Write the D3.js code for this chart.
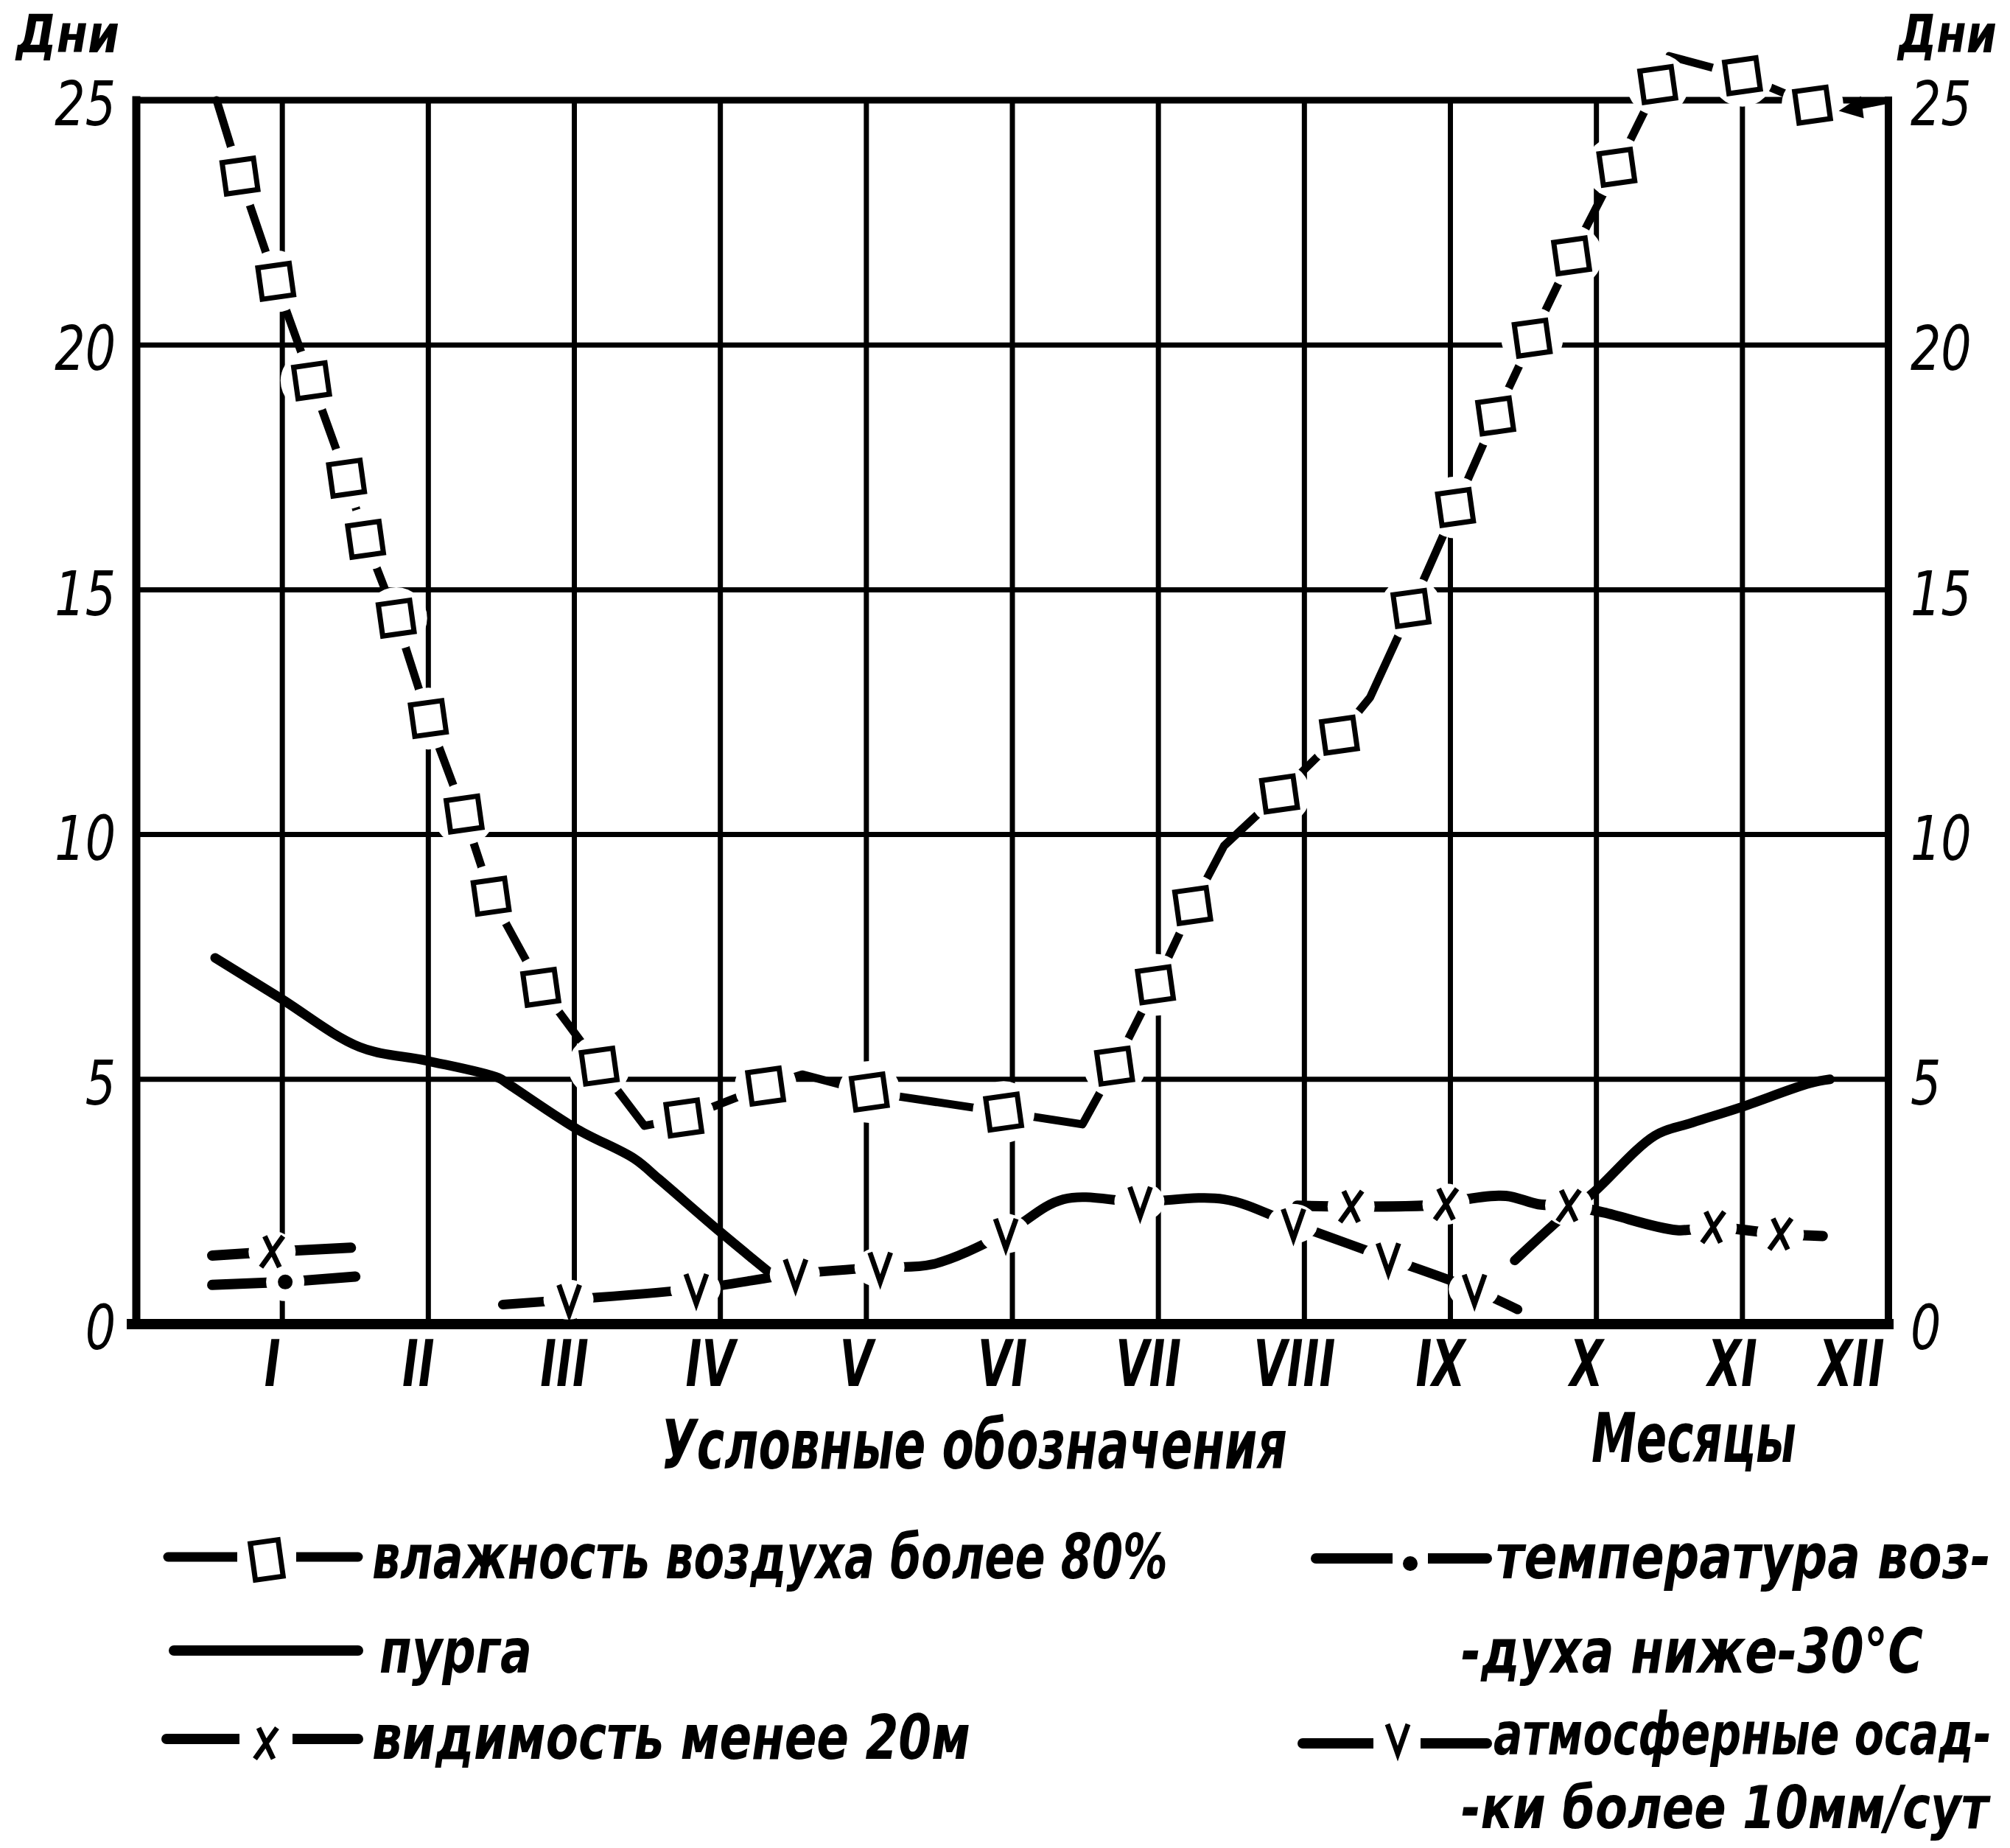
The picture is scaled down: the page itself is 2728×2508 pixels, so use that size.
<!DOCTYPE html>
<html><head><meta charset="utf-8">
<script src="https://cdn.jsdelivr.net/npm/d3@7"></script>
<style>body{margin:0;background:#fff}svg{display:block}</style>
</head><body>
<svg id="chart" width="2728" height="2508"></svg>
<script>
// ---------- DATA ----------
const months = ["I","II","III","IV","V","VI","VII","VIII","IX","X","XI","XII"];
const dayTicks = [0,5,10,15,20,25];
const gridMonths = [1,2,3,4,5,6,7,8,9,10,11];
const gridDays = [5,10,15,20];

// [month position, days, marker(1) / plain vertex(0)]
const humidity = [
  [0.55,25.0,0],[0.71,23.45,1],[0.955,21.3,1],[1.20,19.27,1],[1.44,17.28,1],[1.57,16.03,1],
  [1.78,14.42,1],[2.00,12.37,1],[2.245,10.42,1],[2.43,8.74,1],[2.77,6.88,1],[3.17,5.27,1],
  [3.48,4.05,0],[3.75,4.21,1],[4.31,4.86,1],[4.56,5.1,0],[5.02,4.74,1],[5.94,4.33,1],
  [6.48,4.08,0],[6.70,5.27,1],[6.98,6.93,1],[7.235,8.55,1],[7.45,9.77,0],[7.83,10.83,1],
  [8.24,12.03,1],[8.45,12.8,0],[8.73,14.62,1],[9.035,16.68,1],[9.31,18.55,1],[9.56,20.14,1],
  [9.83,21.82,1],[10.14,23.63,1],[10.42,25.32,1],[10.5,25.9,0],[11.0,25.5,1],[11.48,24.9,1]
];
const humidityArrow = [[12,25],[11.66,24.78]];

const blizzardWinter = [
  [0.54,7.48],[0.98,6.67],[1.53,5.66],[1.99,5.38],[2.48,5.03],[2.55,4.9],[3.02,3.98],
  [3.41,3.38],[3.58,2.96],[4.0,1.88],[4.40,0.9]
];
const blizzardAutumn = [
  [9.44,1.3],[9.81,2.3],[9.97,2.66],[10.4,3.85],[10.64,4.1],[10.98,4.42],[11.46,4.92],[11.6,5.0]
];

const visibility = [
  [7.95,2.42,0],[8.32,2.4,1],[8.97,2.45,1],[9.07,2.53,0],[9.38,2.62,0],[9.6,2.45,0],[9.81,2.42,1],
  [10.05,2.28,0],[10.55,1.92,0],[10.8,1.98,1],[11.26,1.84,1],[11.55,1.8,0]
];
const visibilityJan = [[0.52,1.40,0],[0.93,1.48,1],[1.47,1.56,0]];
const frostJan = [[0.52,0.80,0],[1.02,0.86,1],[1.5,0.97,0]];

const precipitation = [
  [2.51,0.4,0],[2.96,0.5,1],[3.83,0.72,1],[4.51,1.02,1],[5.09,1.16,1],[5.45,1.22,0],
  [5.95,1.85,1],[6.35,2.55,0],[6.87,2.5,1],[7.45,2.55,0],[7.92,2.05,1],[8.57,1.35,1],
  [9.16,0.71,1],[9.46,0.3,0]
];

const axisTitleDays = "Дни";
const legendTitle = "Условные обозначения";
const monthsTitle = "Месяцы";
const legendLeft = ["влажность воздуха более 80%","пурга","видимость менее 20м"];
const legendRight = ["температура воз-","-духа ниже-30°C","атмосферные осад-","-ки более 10мм/сут"];

// ---------- LAYOUT ----------
const FONT = "'Liberation Sans Narrow','DejaVu Sans Condensed','DejaVu Sans','Liberation Sans',sans-serif";
const X0 = 185, X1 = 2563, Y0 = 1797, Y1 = 136;
const x = d3.scaleLinear().domain([0,12]).range([X0,X1]);
const y = d3.scaleLinear().domain([0,25]).range([Y0,Y1]);

const svg = d3.select("#chart");
svg.append("rect").attr("width",2728).attr("height",2508).attr("fill","#fff");

const gGrid = svg.append("g").attr("stroke","#000").attr("stroke-width",7);
gGrid.selectAll("line.v").data(gridMonths).join("line").attr("class","v")
  .attr("x1",d=>x(d)).attr("x2",d=>x(d)).attr("y1",Y1).attr("y2",Y0);
gGrid.selectAll("line.h").data(gridDays).join("line").attr("class","h")
  .attr("x1",X0).attr("x2",X1).attr("y1",d=>y(d)).attr("y2",d=>y(d));

const gFrame = svg.append("g").attr("stroke","#000").attr("stroke-linecap","square");
gFrame.append("line").attr("x1",X0).attr("x2",X0).attr("y1",y(25)).attr("y2",Y0).attr("stroke-width",11);
gFrame.append("line").attr("x1",X1).attr("x2",X1).attr("y1",y(25)).attr("y2",Y0).attr("stroke-width",10);
gFrame.append("line").attr("x1",X0).attr("x2",X1).attr("y1",y(25)).attr("y2",y(25)).attr("stroke-width",9);
gFrame.append("line").attr("x1",X0-6).attr("x2",X1).attr("y1",Y0).attr("y2",Y0).attr("stroke-width",14);

// ---------- SERIES LINES ----------
const lineLin = d3.line().x(d=>x(d[0])).y(d=>y(d[1]));
const lineSmooth = d3.line().x(d=>x(d[0])).y(d=>y(d[1])).curve(d3.curveCatmullRom.alpha(0.5));
const gLines = svg.append("g").attr("fill","none").attr("stroke","#000")
  .attr("stroke-linecap","round").attr("stroke-linejoin","round");

gLines.append("path").datum(humidity).attr("d",lineLin).attr("stroke-width",11);
gLines.append("path").datum(blizzardWinter).attr("d",lineSmooth).attr("stroke-width",13);
gLines.append("path").datum(blizzardAutumn).attr("d",lineSmooth).attr("stroke-width",13);
gLines.append("path").datum(visibility).attr("d",lineSmooth).attr("stroke-width",14);
gLines.append("path").datum(precipitation).attr("d",lineSmooth).attr("stroke-width",13);
gLines.append("path").datum(visibilityJan).attr("d",lineLin).attr("stroke-width",14);
gLines.append("path").datum(frostJan).attr("d",lineLin).attr("stroke-width",14);

// ---------- HALOS (gaps around markers) ----------
const gHalo = svg.append("g").attr("fill","#fff");
const mk = arr => arr.filter(d=>d[2]===1);
gHalo.selectAll("circle.hs").data(mk(humidity)).join("circle").attr("class","hs")
  .attr("cx",d=>x(d[0])).attr("cy",d=>y(d[1])).attr("r",42);
gHalo.selectAll("ellipse.hv").data(mk(precipitation)).join("ellipse").attr("class","hv")
  .attr("cx",d=>x(d[0])).attr("cy",d=>y(d[1])).attr("rx",34).attr("ry",27);
gHalo.selectAll("ellipse.hx").data(mk(visibility).concat(mk(visibilityJan))).join("ellipse").attr("class","hx")
  .attr("cx",d=>x(d[0])).attr("cy",d=>y(d[1])).attr("rx",32).attr("ry",28);
gHalo.selectAll("circle.hd").data(mk(frostJan)).join("circle").attr("class","hd")
  .attr("cx",d=>x(d[0])).attr("cy",d=>y(d[1])).attr("r",26);

// ---------- MARKERS ----------
function drawSquare(g, cx, cy, w, h){
  g.append("rect").attr("x",cx-w/2).attr("y",cy-h/2).attr("width",w).attr("height",h)
    .attr("fill","#fff").attr("stroke","#000").attr("stroke-width",7)
    .attr("transform",`rotate(-8,${cx},${cy})`);
}
function drawV(g, cx, cy){
  g.append("path").attr("d",`M${cx-13},${cy-20}L${cx+1},${cy+20}L${cx+15},${cy-20}`)
    .attr("fill","none").attr("stroke","#000").attr("stroke-width",7).attr("stroke-linejoin","miter");
}
function drawX(g, cx, cy){
  g.append("path").attr("d",`M${cx-10},${cy-21}L${cx+10},${cy+21}M${cx+15},${cy-21}L${cx-15},${cy+21}`)
    .attr("fill","none").attr("stroke","#000").attr("stroke-width",7);
}
function drawDot(g, cx, cy){
  g.append("circle").attr("cx",cx).attr("cy",cy).attr("r",10).attr("fill","#000");
}
const gMark = svg.append("g");
mk(humidity).forEach(d=>drawSquare(gMark, x(d[0]), y(d[1]), 43, 43));
mk(precipitation).forEach(d=>drawV(gMark, x(d[0]), y(d[1])));
mk(visibility).forEach(d=>drawX(gMark, x(d[0]), y(d[1])));
mk(visibilityJan).forEach(d=>drawX(gMark, x(d[0]), y(d[1])));
mk(frostJan).forEach(d=>drawDot(gMark, x(d[0]), y(d[1])));

// arrow at the end of the humidity curve
const ax0 = x(humidityArrow[0][0]), ay0 = y(humidityArrow[0][1]);
const ax1 = x(humidityArrow[1][0]), ay1 = y(humidityArrow[1][1]);
gMark.append("line").attr("x1",ax0).attr("y1",ay0).attr("x2",ax1+14).attr("y2",ay1-4)
  .attr("stroke","#000").attr("stroke-width",9).attr("stroke-linecap","round");
gMark.append("path").attr("d",`M${ax1},${ay1}L${ax1+30},${ay1-20}L${ax1+34},${ay1+10}Z`).attr("fill","#000");

// ---------- AXES ----------
// horizontal condensing of axis labels (drafting font is narrow)
function squeeze(sel, f){
  sel.each(function(){
    const t = d3.select(this);
    const ox = +t.attr("x") || 0;
    const odx = parseFloat(t.attr("dx")) || 0;
    t.attr("x", ox/f).attr("dx", odx/f).attr("transform", `scale(${f},1)`);
  });
}
const tickFont = g => g.selectAll("text").attr("font-family",FONT).attr("font-style","italic")
  .attr("font-size",84).attr("fill","#000").attr("dy","0.4em");

const gLeft = svg.append("g").attr("transform",`translate(${X0},0)`)
  .call(d3.axisLeft(y).tickValues(dayTicks).tickSize(0).tickPadding(28).tickFormat(d3.format("d")));
gLeft.select(".domain").remove();
gLeft.call(tickFont);
squeeze(gLeft.selectAll("text"), 0.86);

const gRight = svg.append("g").attr("transform",`translate(${X1},0)`)
  .call(d3.axisRight(y).tickValues(dayTicks).tickSize(0).tickPadding(30).tickFormat(d3.format("d")));
gRight.select(".domain").remove();
gRight.call(tickFont);
squeeze(gRight.selectAll("text"), 0.86);

const gBottom = svg.append("g").attr("transform",`translate(0,${Y0})`)
  .call(d3.axisBottom(x).tickValues(d3.range(1,13)).tickSize(0).tickPadding(22).tickFormat(d=>months[d-1]));
gBottom.select(".domain").remove();
gBottom.selectAll("text").attr("font-family",FONT).attr("font-style","italic").attr("font-weight","bold")
  .attr("font-size",88).attr("fill","#000").attr("dx",-14);
gBottom.selectAll(".tick").filter(d=>d===12).select("text").attr("text-anchor","end").attr("dx",-6);
squeeze(gBottom.selectAll("text"), 0.74);

// ---------- TEXTS ----------
// text placed at (tx,ty) and condensed horizontally to the given width
function txt(str, tx, ty, size, width, weight){
  const t = svg.append("text").attr("x",0).attr("y",0).text(str)
    .attr("font-family",FONT).attr("font-style","italic").attr("font-size",size)
    .attr("font-weight",weight||"bold").attr("fill","#000");
  const w = t.node().getComputedTextLength();
  const f = width ? width / w : 1;
  t.attr("transform", `translate(${tx},${ty}) scale(${f},1)`);
  return t;
}
txt(axisTitleDays, 22, 71, 72, 140, "bold");
txt(axisTitleDays, 2576, 71, 72, 134, "bold");
txt(legendTitle, 897, 1993, 92, 850);
txt(monthsTitle, 2160, 1984, 92, 278);

// legend: left column
const gLeg = svg.append("g").attr("stroke","#000").attr("fill","none").attr("stroke-linecap","round");
const legRowsY = [2113, 2240, 2360];
const legTextY = [2142, 2270, 2387];
// humidity symbol
gLeg.append("line").attr("x1",228).attr("x2",486).attr("y1",legRowsY[0]).attr("y2",legRowsY[0]).attr("stroke-width",13);
svg.append("rect").attr("x",362-40).attr("y",legRowsY[0]-36).attr("width",80).attr("height",72).attr("fill","#fff");
drawSquare(svg, 362, legRowsY[0]+4, 38, 50);
// blizzard symbol
gLeg.append("line").attr("x1",236).attr("x2",486).attr("y1",legRowsY[1]).attr("y2",legRowsY[1]).attr("stroke-width",14);
// visibility symbol
gLeg.append("line").attr("x1",226).attr("x2",486).attr("y1",legRowsY[2]).attr("y2",legRowsY[2]).attr("stroke-width",14);
svg.append("rect").attr("x",361-36).attr("y",legRowsY[2]-34).attr("width",72).attr("height",68).attr("fill","#fff");
drawX(svg, 361, legRowsY[2]+6);

const legLeftX = [505, 515, 505];
const legLeftLen = [1080, 207, 812];
legendLeft.forEach((s,i)=>txt(s, legLeftX[i], legTextY[i], 84, legLeftLen[i]));

// legend: right column
gLeg.append("line").attr("x1",1786).attr("x2",2018).attr("y1",2115).attr("y2",2115).attr("stroke-width",14);
svg.append("rect").attr("x",1914-24).attr("y",2115-30).attr("width",48).attr("height",60).attr("fill","#fff");
drawDot(svg, 1914, 2122);
gLeg.append("line").attr("x1",1768).attr("x2",2018).attr("y1",2366).attr("y2",2366).attr("stroke-width",14);
svg.append("rect").attr("x",1896-32).attr("y",2366-34).attr("width",64).attr("height",68).attr("fill","#fff");
drawV(svg, 1896, 2360);

const legRightX = [2030, 1983, 2027, 1983];
const legRightY = [2142, 2270, 2381, 2481];
const legRightLen = [672, 627, 676, 716];
legendRight.forEach((s,i)=>txt(s, legRightX[i], legRightY[i], i>=2 ? 80 : 84, legRightLen[i]));
</script>
</body></html>
